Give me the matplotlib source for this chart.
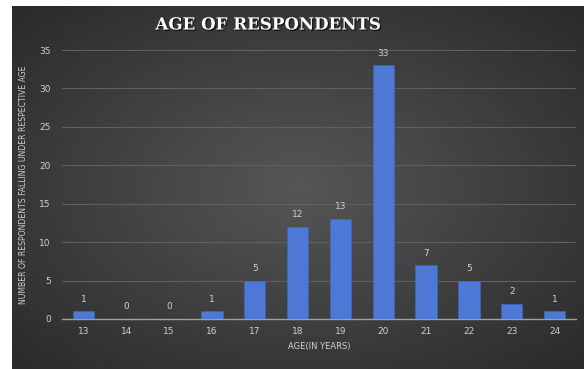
import numpy as np
import matplotlib.pyplot as plt
import matplotlib.patheffects as pe

ages = ['13', '14', '15', '16', '17', '18', '19', '20', '21', '22', '23', '24']
counts = [1, 0, 0, 1, 5, 12, 13, 33, 7, 5, 2, 1]

W, H = 584, 369
fig = plt.figure(figsize=(W / 100, H / 100), dpi=100)
fig.patch.set_facecolor('white')

# dark radial gradient panel behind the chart
bg = fig.add_axes([12 / W, 0, (W - 12) / W, (H - 6) / H])
yy, xx = np.mgrid[-1:1:200j, -1:1:300j]
r = np.clip(np.sqrt(xx ** 2 + yy ** 2) / np.sqrt(2), 0, 1)
g = (0x56 - r * (0x56 - 0x2a)) / 255
bg.imshow(np.dstack([g, g, g]), aspect='auto', extent=[0, 1, 0, 1], interpolation='bilinear')
bg.axis('off')

ax = fig.add_axes([62 / W, 50 / H, 514 / W, 269 / H])
ax.set_facecolor('none')
x = np.arange(len(ages))
ax.bar(x, counts, width=0.5, color='#4d78d6', edgecolor='#3d66c2', linewidth=0.5, zorder=3)
for xi, c in zip(x, counts):
    ax.text(xi, c + 1.0, str(c), ha='center', va='bottom', color='#d0d0d0', fontsize=6.5)

ax.set_xlim(-0.5, len(ages) - 0.5)
ax.set_ylim(0, 35)
ax.set_yticks(range(0, 36, 5))
ax.set_xticks(x)
ax.set_xticklabels(ages)
ax.grid(axis='y', color='#606060', linewidth=0.8, zorder=0)
for s in ['top', 'right', 'left']:
    ax.spines[s].set_visible(False)
ax.spines['bottom'].set_color('#a0a0a0')
ax.spines['bottom'].set_linewidth(1.0)
ax.tick_params(length=0, colors='#d0d0d0', labelsize=6.5)
ax.tick_params(axis='x', pad=6)
ax.tick_params(axis='y', pad=8)

ax.set_xlabel('AGE(IN YEARS)', color='#d0d0d0', fontsize=6, labelpad=4)
ax.set_ylabel('NUMBER OF RESPONDENTS FALLING UNDER RESPECTIVE AGE', color='#d0d0d0',
              fontsize=5.6, labelpad=8)

fig.text(268 / W, 1 - 25 / H, 'AGE OF RESPONDENTS', ha='center', va='center',
         color='white', fontsize=12, fontweight='bold', family='DejaVu Serif',
         path_effects=[pe.withSimplePatchShadow(offset=(1, -1), shadow_rgbFace='black', alpha=0.6)])

fig.savefig('out.png', dpi=100)
